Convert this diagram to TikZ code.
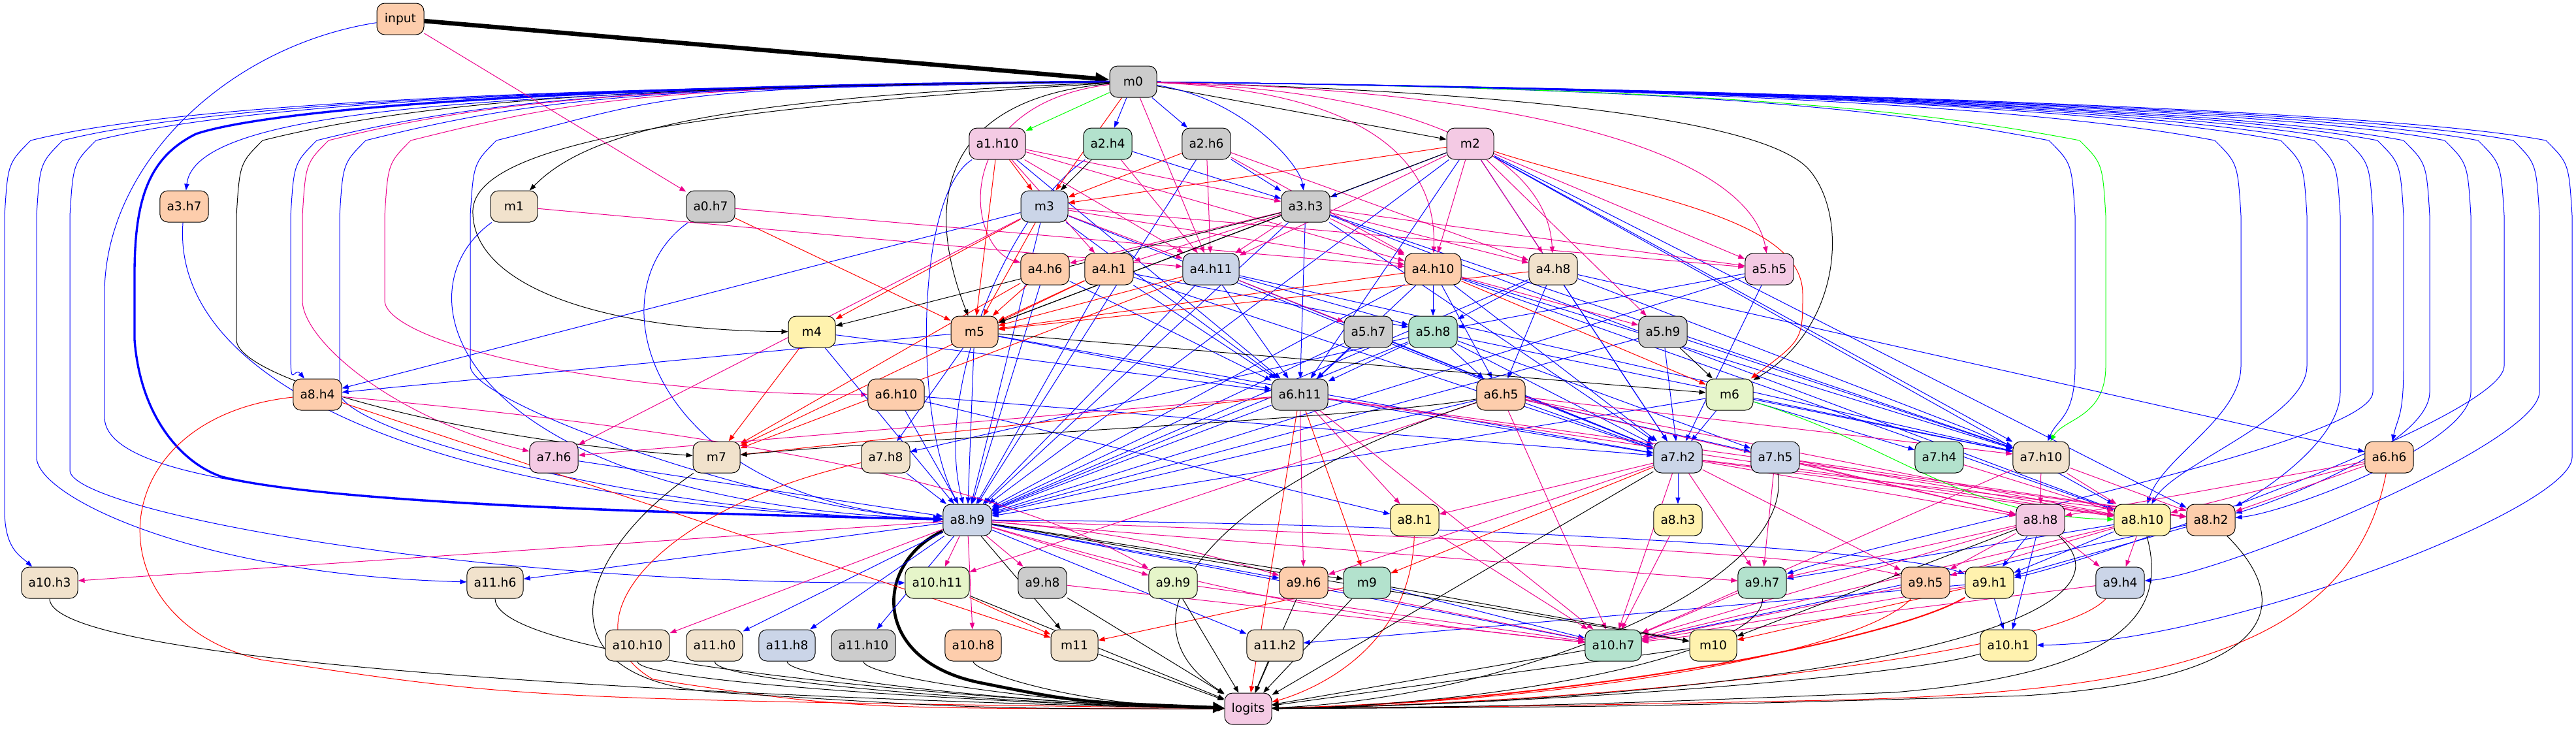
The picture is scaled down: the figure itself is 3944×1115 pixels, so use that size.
\documentclass[tikz,border=0pt]{standalone}
\usepackage{fontspec}
\setmainfont{DejaVu Sans}
\usetikzlibrary{arrows.meta}

\definecolor{pGreen}{HTML}{B3E2CD}
\definecolor{pPeach}{HTML}{FDCDAC}
\definecolor{pBlue}{HTML}{CBD5E8}
\definecolor{pPink}{HTML}{F4CAE4}
\definecolor{pLime}{HTML}{E6F5C9}
\definecolor{pYellow}{HTML}{FFF2AE}
\definecolor{pBeige}{HTML}{F1E2CC}
\definecolor{pGrey}{HTML}{CCCCCC}

\pgfdeclarelayer{background}
\pgfsetlayers{background,main}

\tikzset{
  unit/.style={draw, line width=0.75pt, rounded corners=9pt, minimum width=54pt,
    minimum height=36pt, inner xsep=8pt, inner ysep=2pt, font=\fontsize{14pt}{16pt}\selectfont},
  wire/.style={line width=0.75pt, -{Triangle[length=7.5pt,width=5.5pt]}},
  eb/.style={wire, blue},
  er/.style={wire, red},
  em/.style={wire, magenta},
  ek/.style={wire, black},
  eg/.style={wire, green},
}

\begin{document}
\begin{tikzpicture}[x=0.75pt, y=-0.75pt]
  \useasboundingbox (0,0) rectangle (3944,1115);

	%draw nodes, row by row
 \def\y{29};
    \foreach \name/\txt/\x/\col in {input/input/613/pPeach}{
       \node[unit, fill=\col] (\name) at (\x,\y) {\txt};
    }
 \def\y{125};
    \foreach \name/\txt/\x/\col in {m0/m0/1735/pGrey}{
       \node[unit, fill=\col] (\name) at (\x,\y) {\txt};
    }
 \def\y{220};
    \foreach \name/\txt/\x/\col in {a1h10/a1.h10/1527/pPink, a2h4/a2.h4/1696/pGreen,
        a2h6/a2.h6/1847/pGrey, m2/m2/2251/pPink}{
       \node[unit, fill=\col] (\name) at (\x,\y) {\txt};
    }
 \def\y{316};
    \foreach \name/\txt/\x/\col in {a3h7/a3.h7/282/pPeach, m1/m1/787/pBeige, a0h7/a0.h7/1088/pGrey,
        m3/m3/1599/pBlue, a3h3/a3.h3/1999/pGrey}{
       \node[unit, fill=\col] (\name) at (\x,\y) {\txt};
    }
 \def\y{412};
    \foreach \name/\txt/\x/\col in {a4h6/a4.h6/1600/pPeach, a4h1/a4.h1/1698/pPeach, a4h11/a4.h11/1854/pBlue,
        a4h10/a4.h10/2194/pPeach, a4h8/a4.h8/2378/pBeige, a5h5/a5.h5/2709/pPink}{
       \node[unit, fill=\col] (\name) at (\x,\y) {\txt};
    }
 \def\y{508};
    \foreach \name/\txt/\x/\col in {m4/m4/1243/pYellow, m5/m5/1492/pPeach, a5h7/a5.h7/2095/pGrey,
        a5h8/a5.h8/2194/pGreen, a5h9/a5.h9/2546/pGrey}{
       \node[unit, fill=\col] (\name) at (\x,\y) {\txt};
    }
 \def\y{604};
    \foreach \name/\txt/\x/\col in {a8h4/a8.h4/486/pPeach, a6h10/a6.h10/1372/pPeach, a6h11/a6.h11/1990/pGrey,
        a6h5/a6.h5/2298/pPeach, m6/m6/2648/pLime}{
       \node[unit, fill=\col] (\name) at (\x,\y) {\txt};
    }
 \def\y{700};
    \foreach \name/\txt/\x/\col in {a7h6/a7.h6/848/pPink, m7/m7/1097/pBeige, a7h8/a7.h8/1356/pBeige,
        a7h2/a7.h2/2569/pBlue, a7h5/a7.h5/2718/pBlue, a7h4/a7.h4/2969/pGreen,
        a7h10/a7.h10/3125/pBeige, a6h6/a6.h6/3658/pPeach}{
       \node[unit, fill=\col] (\name) at (\x,\y) {\txt};
    }
 \def\y{796};
    \foreach \name/\txt/\x/\col in {a8h9/a8.h9/1481/pBlue, a8h1/a8.h1/2166/pYellow, a8h3/a8.h3/2569/pYellow,
        a8h8/a8.h8/3124/pPink, a8h10/a8.h10/3280/pYellow, a8h2/a8.h2/3385/pPeach}{
       \node[unit, fill=\col] (\name) at (\x,\y) {\txt};
    }
 \def\y{892};
    \foreach \name/\txt/\x/\col in {a10h3/a10.h3/76/pBeige, a11h6/a11.h6/758/pBeige, a10h11/a10.h11/1435/pLime,
        a9h8/a9.h8/1596/pGrey, a9h9/a9.h9/1796/pLime, a9h6/a9.h6/1996/pPeach, m9/m9/2093/pGreen,
        a9h7/a9.h7/2698/pGreen, a9h5/a9.h5/2948/pPeach, a9h1/a9.h1/3046/pYellow, a9h4/a9.h4/3246/pBlue}{
       \node[unit, fill=\col] (\name) at (\x,\y) {\txt};
    }
 \def\y{988};
    \foreach \name/\txt/\x/\col in {a10h10/a10.h10/976/pBeige, a11h0/a11.h0/1094/pBeige, a11h8/a11.h8/1205/pBlue,
        a11h10/a11.h10/1322/pGrey, a10h8/a10.h8/1490/pPeach, m11/m11/1645/pBeige, a11h2/a11.h2/1952/pBeige,
        a10h7/a10.h7/2470/pGreen, m10/m10/2623/pYellow, a10h1/a10.h1/3075/pYellow}{
       \node[unit, fill=\col] (\name) at (\x,\y) {\txt};
    }
 \def\y{1085};
    \foreach \name/\txt/\x/\col in {logits/logits/1911/pPink}{
       \node[unit, fill=\col] (\name) at (\x,\y) {\txt};
    }

\begin{pgfonlayer}{background}

   %heavy paths
  \draw[ek, line width=5pt, -{Triangle[length=16pt,width=13pt]}] (input) -- (m0);
  \draw[eb, line width=2.5pt, -{Triangle[length=11pt,width=9pt]}] (m0) .. controls (900,130) and (420,165) .. (300,205)
      .. controls (230,240) and (206,300) .. (206,420) -- (206,520) .. controls (215,640) and (280,710) .. (340,730)
      .. controls (500,770) and (1000,785) .. (a8h9);
  \draw[ek, line width=3.5pt, -{Triangle[length=13pt,width=12pt]}] (a8h9) .. controls (1340,860) and (1330,1010) .. (1500,1045)
      .. controls (1650,1075) .. (logits);
  \draw[eb] (input) .. controls (350,70) and (160,250) .. (160,450) -- (160,640) .. controls (165,760) and (700,780) .. (a8h9);

   %long routes out of m0, left side
    \foreach \c/\x/\yb/\ax/\ay/\t in {eb/7/780/30/850/a10h3, eb/56/700/300/880/a11h6, eb/107/720/700/895/a10h11,
        eb/445/540/450/560/a8h4, em/463/460/600/640/a7h6, em/589/460/900/604/a6h10,
        eb/520/600/1000/790/a8h9, eb/720/560/1200/785/a8h9, ek/362/520/700/672/m7}{
       \draw[\c] (m0) .. controls (1000,132) and (\x+300,150) .. (\x+40,215) .. controls (\x+5,250) .. (\x,330)
           -- (\x,\yb) .. controls (\x,\yb+60) and (\ax,\ay) .. (\t);
    }
  \draw[eb] (m0) .. controls (800,140) and (300,160) .. (a3h7);
  \draw[ek] (m0) .. controls (1100,150) and (900,200) .. (m1);
  \draw[ek] (m0) .. controls (1000,170) and (730,230) .. (724,321) .. controls (720,430) and (900,505) .. (m4);

   %long routes out of m0, right side
    \foreach \c/\x/\yb/\ax/\ay/\t in {eb/3177/560/3150/640/a7h10, eg/3224/560/3160/640/a7h10,
        eb/3431/560/3310/700/a8h10, eb/3532/560/3330/710/a8h10, eb/3583/600/3450/760/a8h2,
        eb/3633/600/2900/820/a9h7, eb/3680/560/3670/640/a6h6, eb/3720/600/3480/770/a8h2,
        eb/3783/600/3500/785/a8h2, eb/3834/560/3200/860/a9h1, eb/3888/600/3400/880/a9h4,
        eb/3938/700/3400/985/a10h1}{
       \draw[\c] (m0) .. controls (2600,135) and (\x-300,165) .. (\x-40,215) .. controls (\x-5,250) .. (\x,330)
           -- (\x,\yb) .. controls (\x,\yb+80) and (\ax,\ay) .. (\t);
    }
  \draw[ek] (m0) .. controls (2300,140) and (2700,180) .. (2770,260) .. controls (2830,330) and (2820,500) .. (m6);

   %short curves out of m0
  \draw[eg] (m0) -- (a1h10);
  \draw[ek] (m0) -- (m2);
  \draw[eb] (m0) .. controls (1900,150) and (1990,250) .. (a3h3);
  \draw[ek] (m0) .. controls (1450,150) and (1410,300) .. (m5);
  \draw[em] (m0) .. controls (1450,160) and (1480,380) .. (a4h6);
  \draw[em] (m0) .. controls (2100,140) and (2200,250) .. (a4h10);
  \draw[em] (m0) .. controls (2200,140) and (2370,250) .. (a4h8);
  \draw[em] (m0) .. controls (2400,140) and (2680,250) .. (a5h5);

   %curves into a8.h9 from the left
  \draw[eb] (a3h7) .. controls (260,600) and (700,780) .. (a8h9);
  \draw[eb] (m1) .. controls (600,450) and (700,770) .. (a8h9);
  \draw[eb] (a0h7) .. controls (900,450) and (1000,770) .. (a8h9);
  \draw[eb] (a1h10) .. controls (1400,300) and (1400,650) .. (a8h9);
  \draw[eb] (a2h4) .. controls (1540,330) and (1430,600) .. (a8h9);

   %blue
    \foreach \s/\t in {m0/a2h4, m0/a2h6, a2h4/a3h3, a2h6/a3h3, m2/a3h3,
        a4h10/a5h8, a4h8/a5h8, a4h11/a5h8, a4h1/a5h8, a5h5/a5h8,
        a4h1/a6h11, a4h11/a6h11, a4h6/a6h11, m5/a6h11, m4/a6h11, a5h7/a6h11, a5h8/a6h11, a4h10/a6h11,
        a3h3/a6h11, m3/a6h11, a1h10/a6h11, m2/a6h11,
        a5h8/a6h5, a4h10/a6h5, a4h8/a6h5, m3/a8h4, m5/a8h4, m5/a7h8, a5h8/a7h8,
        a5h8/a7h2, a6h5/a7h2, a5h9/a7h2, m6/a7h2, a4h10/a7h2, a4h11/a7h2, a4h8/a7h2, a6h11/a7h2, m5/a7h2,
        a5h7/a7h2, a4h1/a7h2, m3/a7h2, a3h3/a7h2, m2/a7h2, a6h10/a7h2, a5h5/a7h2,
        a6h5/a7h5, a5h8/a7h5, m6/a7h4,
        m6/a7h10, a5h9/a7h10, a4h11/a7h10, a4h10/a7h10, a4h8/a7h10, a3h3/a7h10, m2/a7h10, a5h8/a7h10, a4h8/a6h6,
        m4/a8h9, m5/a8h9, a6h10/a8h9, a4h6/a8h9, a4h1/a8h9, a4h11/a8h9, m3/a8h9, a5h8/a8h9, a6h11/a8h9,
        a6h5/a8h9, m6/a8h9, a5h9/a8h9, a5h7/a8h9, a7h6/a8h9, a2h6/a8h9, m2/a8h9, a3h3/a8h9, a4h10/a8h9,
        a4h8/a8h9, a5h5/a8h9, a7h8/a8h9,
        a6h10/a8h1, a7h2/a8h3, m2/a8h10, a3h3/a8h10, m2/a8h2, a4h10/a8h10,
        a8h9/a11h6, a8h9/a11h0, a8h9/a11h8, a8h9/a11h10, a8h9/a11h2, a8h9/a10h7, a8h9/a9h6,
        a8h8/a9h1, a8h10/a9h1, a8h2/a9h1, a8h10/a9h7,
        a9h1/a10h1, a8h8/a10h1, a9h1/a11h2, m9/a10h7, a8h2/a10h7}{
       \draw[eb] (\s) -- (\t);
    }
  \draw[eb] (a8h9) .. controls (2200,800) and (2900,840) .. (a9h1);

   %red
    \foreach \s/\t in {m0/m3, a1h10/m3, a2h6/m3, m2/m3, m3/m4, m3/m5, a1h10/m5, a4h6/m5, a4h1/m5,
        a4h11/m5, a4h10/m5, a4h8/m5, a0h7/m5, a4h6/m7, a4h1/m7, a4h11/m7, m4/m7, a6h11/m7,
        a4h10/m6, a6h11/m9, a7h2/m9, a10h11/m11, a8h4/m11, m9/m11, a9h1/m10, a6h11/logits}{
       \draw[er] (\s) -- (\t);
    }
  \draw[er] (m2) .. controls (2500,300) and (2760,330) .. (2760,450) .. controls (2760,520) .. (m6);
  \draw[er] (a8h4) .. controls (150,640) and (140,950) .. (400,1010) .. controls (800,1070) .. (logits);
  \draw[er] (a7h8) .. controls (1000,780) and (860,960) .. (1000,1040) .. controls (1300,1085) .. (logits);
  \draw[er] (a8h1) .. controls (2160,1000) and (2000,1060) .. (logits);
  \draw[er, line width=1.5pt] (a9h1) .. controls (2900,980) and (2400,1075) .. (logits);
  \draw[er] (a9h4) .. controls (3150,1000) and (2500,1075) .. (logits);
  \draw[er] (a9h5) .. controls (2850,1000) and (2400,1075) .. (logits);
  \draw[er] (a6h6) .. controls (3600,1000) and (3300,1060) .. (2800,1072) .. controls (2300,1082) .. (logits);

   %magenta
    \foreach \s/\t in {input/a0h7, a1h10/a3h3, a3h3/a4h6, a3h3/a4h1, a1h10/a4h1, a2h4/a4h11, a2h6/a4h11,
        a3h3/a4h11, m2/a4h11, a1h10/a4h11, m3/a4h11, m1/a4h11, m0/a4h11, m3/a4h10, a3h3/a4h10, a2h6/a4h10,
        m2/a4h10, a1h10/a4h10, a0h7/a4h10, m2/a4h8, a3h3/a4h8, a2h6/a4h8, m2/a5h5, a3h3/a5h5, m3/a5h5,
        a4h11/a5h7, a4h10/a5h9, m2/a5h9, m3/a7h6, a6h11/a7h6,
        a6h11/a8h1, a7h2/a8h1, a7h10/a8h8, a6h6/a8h8, a7h2/a8h8, a7h5/a8h8, a6h5/a8h8,
        a7h10/a8h10, a6h6/a8h10, a6h5/a8h10, a7h2/a8h10, a7h5/a8h10, a7h4/a8h10, a6h11/a8h10,
        a7h10/a8h2, a6h6/a8h2, a7h2/a8h2, a6h11/a8h2, a7h5/a8h2, a6h5/a7h10,
        a8h9/a10h3, a8h9/a10h11, a6h5/a10h11, a8h9/a9h8, a8h9/a9h9, a6h11/a9h6, a7h2/a9h6,
        a8h9/a10h10, a8h9/a10h8, a8h9/a9h7, a7h2/a9h7, a8h8/a9h7, a7h5/a9h7, a7h2/a9h5, a8h8/a9h5,
        a8h10/a9h4, a8h8/a9h4, a8h10/a9h5,
        a9h9/a10h7, a9h8/a10h7, a6h11/a10h7, a7h2/a10h7, a6h5/a10h7, a8h1/a10h7, a9h6/a10h7,
        a9h5/a10h7, a9h1/a10h7, a9h4/a10h7, a9h7/a10h7, a8h8/a10h7, a8h10/a10h7, a7h10/a10h7, a8h3/a10h7}{
       \draw[em] (\s) -- (\t);
    }
  \draw[em] (a8h9) to[bend left=6] (a9h6);
  \draw[em] (a8h9) to[bend right=5] (a10h7);
  \draw[em] (a8h9) .. controls (2200,820) and (2800,850) .. (a9h5);
  \draw[em] (a8h4) .. controls (1000,650) and (1500,720) .. (a9h9);

   %green
  \draw[eg] (m6) .. controls (2900,680) and (3000,790) .. (a8h10);

   %black
    \foreach \s/\t in {a2h4/m3, a3h3/m4, a3h3/m5, m2/m5, a5h9/m6, m5/m6, a8h9/m9, a8h9/m11, a8h9/m10,
        m9/m10, a8h8/m10,
        m11/logits, a10h11/logits, a9h8/logits, a11h2/logits, a9h9/logits, a9h6/logits, m9/logits,
        a7h2/logits, a10h7/logits, m10/logits}{
       \draw[ek] (\s) -- (\t);
    }
  \draw[ek] (a6h5) .. controls (2100,640) and (1400,670) .. (m7);
  \draw[ek] (m7) .. controls (880,850) and (820,1040) .. (1100,1060) .. controls (1500,1085) .. (logits);
  \draw[ek] (a6h5) .. controls (1850,750) and (1700,950) .. (logits);

   %into logits along the bottom
    \foreach \s/\dy in {a10h3/150, a11h6/130, a10h10/60, a11h0/60, a11h8/55, a11h10/50, a10h8/40}{
       \draw[ek] (\s) .. controls +(0,\dy) and (1650,1082) .. (logits);
    }
  \draw[ek] (a10h1) .. controls (2900,1040) and (2300,1080) .. (logits);
  \draw[ek] (a9h7) .. controls (2700,1000) and (2300,1080) .. (logits);
  \draw[ek] (a8h10) .. controls (3320,940) and (3250,1030) .. (2900,1060) .. controls (2400,1080) .. (logits);
  \draw[ek] (a8h2) .. controls (3520,930) and (3480,1040) .. (3100,1065) .. controls (2500,1082) .. (logits);
  \draw[ek] (a8h8) .. controls (3300,950) and (2800,1070) .. (logits);
  \draw[ek] (a7h5) .. controls (2750,900) and (2300,1070) .. (logits);

\end{pgfonlayer}

\end{tikzpicture}
\end{document}
